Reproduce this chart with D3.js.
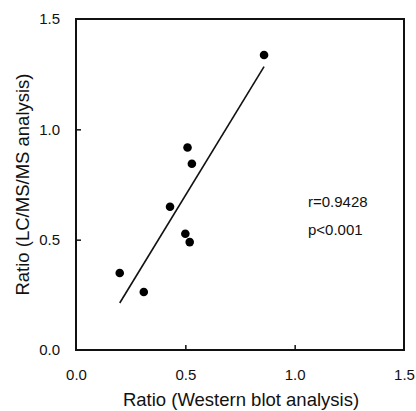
<!DOCTYPE html>
<html><head><meta charset="utf-8">
<script src="https://cdn.jsdelivr.net/npm/d3@7"></script>
<style>body{margin:0;background:#fff}svg{display:block}text{font-family:"Liberation Sans",Arial,sans-serif;fill:#111}</style>
</head><body>
<script>
const westernRatio = [0.86, 0.51, 0.53, 0.43, 0.50, 0.52, 0.20, 0.31];
const lcmsRatio    = [1.337, 0.918, 0.844, 0.649, 0.527, 0.489, 0.349, 0.263];
const fitX = [0.20, 0.86];
const fitY = [0.213, 1.284];
const xTicks = [0, 0.5, 1.0, 1.5];
const yTicks = [0, 0.5, 1.0, 1.5];
const stats = ["r=0.9428", "p<0.001"];

const W = 416, H = 411;
const m = {left: 76, top: 19, right: 12, bottom: 61};
const svg = d3.select("body").append("svg").attr("width", W).attr("height", H);
const x = d3.scaleLinear().domain([0, 1.5]).range([m.left, W - m.right]);
const y = d3.scaleLinear().domain([0, 1.5]).range([H - m.bottom, m.top]);

// frame
svg.append("rect").attr("x", x(0)).attr("y", y(1.5))
  .attr("width", x(1.5) - x(0)).attr("height", y(0) - y(1.5))
  .attr("fill", "none").attr("stroke", "#111").attr("stroke-width", 2);

// inward ticks
const xAxis = svg.append("g").attr("transform", `translate(0,${y(0)})`)
  .call(d3.axisBottom(x).tickValues(xTicks).tickSize(-5).tickPadding(19).tickFormat(d3.format(".1f")));
const yAxis = svg.append("g").attr("transform", `translate(${x(0)},0)`)
  .call(d3.axisLeft(y).tickValues(yTicks).tickSize(-5).tickPadding(16).tickFormat(d3.format(".1f")));
[xAxis, yAxis].forEach(g => {
  g.select(".domain").remove();
  g.selectAll("line").attr("stroke", "#111").attr("stroke-width", 1.5);
  g.selectAll("text").attr("font-size", 15).attr("fill", "#111")
   .style("font-family", '"Liberation Sans",Arial,sans-serif');
});
xAxis.selectAll(".tick").filter(d => d === 0 || d === 1.5).select("line").remove();
yAxis.selectAll(".tick").filter(d => d === 0 || d === 1.5).select("line").remove();

// regression line
svg.append("line").attr("x1", x(fitX[0])).attr("y1", y(fitY[0]))
  .attr("x2", x(fitX[1])).attr("y2", y(fitY[1]))
  .attr("stroke", "#111").attr("stroke-width", 1.6);

// points
svg.append("g").selectAll("circle").data(westernRatio.map((v, i) => [v, lcmsRatio[i]]))
  .join("circle").attr("cx", d => x(d[0])).attr("cy", d => y(d[1])).attr("r", 4.3)
  .attr("fill", "#000");

// stats text
svg.append("g").selectAll("text").data(stats).join("text")
  .attr("x", 308).attr("y", (d, i) => 207 + i * 27.5)
  .attr("font-size", 15).text(d => d);

// axis titles
svg.append("text").attr("x", (x(0) + x(1.5)) / 2 + 1).attr("y", 406)
  .attr("text-anchor", "middle").attr("font-size", 18.5).text("Ratio (Western blot analysis)");
svg.append("text").attr("transform", `translate(29,${(y(0) + y(1.5)) / 2}) rotate(-90)`)
  .attr("text-anchor", "middle").attr("font-size", 18.5).text("Ratio (LC/MS/MS analysis)");
</script>
</body></html>
